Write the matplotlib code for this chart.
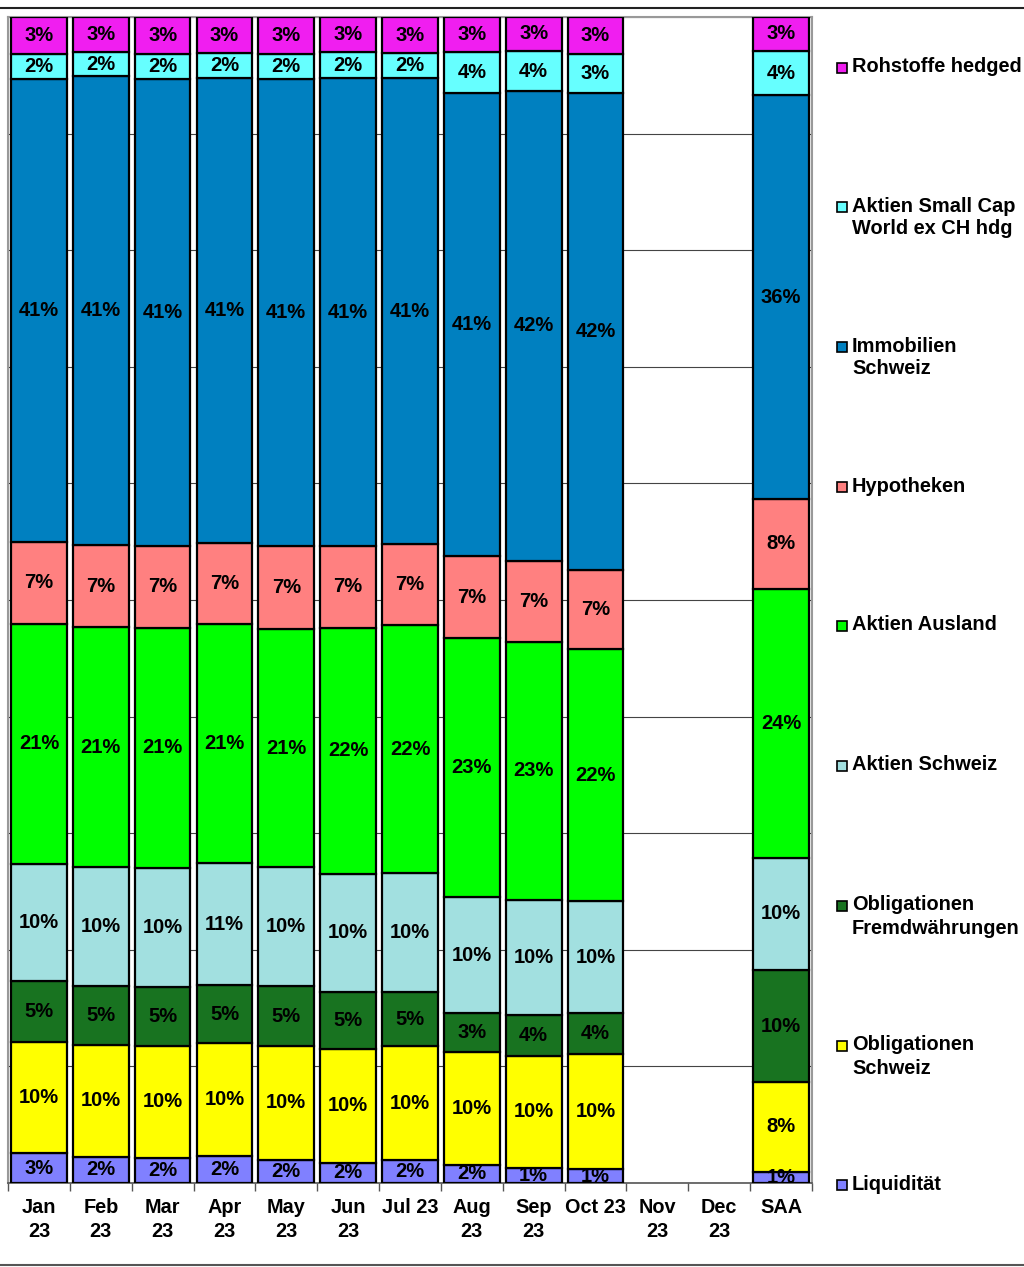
import matplotlib
matplotlib.use('Agg')
import matplotlib.pyplot as plt
import numpy as np
from matplotlib.patches import Rectangle
from matplotlib.lines import Line2D

plt.rcParams['font.family'] = ['Liberation Sans', 'DejaVu Sans']

nan = np.nan
categories = ['Jan\n23', 'Feb\n23', 'Mar\n23', 'Apr\n23', 'May\n23', 'Jun\n23', 'Jul 23',
              'Aug\n23', 'Sep\n23', 'Oct 23', 'Nov\n23', 'Dec\n23', 'SAA']

# values (in %) bottom to top
liquiditaet      = [2.6, 2.3, 2.2, 2.4, 2.0, 1.8, 2.0, 1.6, 1.3, 1.2, nan, nan, 1]
oblig_schweiz    = [9.8, 9.8, 9.8, 9.9, 10.0, 10.0, 10.0, 10.0, 10.0, 10.2, nan, nan, 8]
oblig_fremdw     = [5.3, 5.1, 5.2, 5.1, 5.2, 5.0, 4.8, 3.4, 3.6, 3.6, nan, nan, 10]
aktien_schweiz   = [10.3, 10.4, 10.4, 10.7, 10.4, 10.4, 10.4, 10.3, 10.2, 9.9, nan, nan, 10]
aktien_ausland   = [21.0, 21.0, 21.0, 21.0, 20.9, 21.6, 21.8, 22.9, 22.9, 22.3, nan, nan, 24]
hypotheken       = [7.2, 7.2, 7.2, 7.2, 7.2, 7.2, 7.1, 7.2, 7.2, 7.0, nan, nan, 8]
immobilien       = [40.6, 41.0, 40.9, 40.8, 40.9, 41.1, 40.9, 41.0, 41.6, 42.2, nan, nan, 36]
small_cap        = [2.2, 2.1, 2.2, 2.2, 2.2, 2.3, 2.2, 3.6, 3.6, 3.4, nan, nan, 4]
rohstoffe        = [3.2, 3.1, 3.2, 3.2, 3.2, 3.1, 3.2, 3.1, 3.0, 3.3, nan, nan, 3]

series_names = ['Liquidität', 'Obligationen\nSchweiz', 'Obligationen\nFremdwährungen',
                'Aktien Schweiz', 'Aktien Ausland', 'Hypotheken', 'Immobilien\nSchweiz',
                'Aktien Small Cap\nWorld ex CH hdg', 'Rohstoffe hedged']
series_values = [liquiditaet, oblig_schweiz, oblig_fremdw, aktien_schweiz, aktien_ausland,
                 hypotheken, immobilien, small_cap, rohstoffe]
colors = ['#8080FF', '#FFFF00', '#187320', '#A2E0E0', '#00FF00', '#FF8080',
          '#0080C0', '#66FFFF', '#F01EF0']

W, H = 1024, 1267
fig = plt.figure(figsize=(W / 100, H / 100), dpi=100)
ax = fig.add_axes([8 / W, (H - 1183) / H, 804 / W, 1166 / H])

vals = np.array(series_values, dtype=float)
totals = np.nansum(vals, axis=0)
x = np.arange(len(categories))
bottom = np.zeros(len(categories))
for name, row, col in zip(series_names, vals, colors):
    valid = ~np.isnan(row)
    share = np.where(valid, row / np.where(totals == 0, 1, totals) * 100, 0)
    ax.bar(x[valid], share[valid], bottom=bottom[valid], width=0.9, color=col,
           edgecolor='black', linewidth=1.6, zorder=3)
    for xi, b, s, v in zip(x[valid], bottom[valid], share[valid], row[valid]):
        ax.text(xi, b + s / 2, f"{v:.0f}%", ha='center', va='center',
                fontsize=14.5, fontweight='bold', color='black', zorder=4)
    bottom = bottom + share

ax.set_xlim(-0.5, len(categories) - 0.5)
ax.set_ylim(0, 100)
ax.set_yticks(np.arange(0, 101, 10))
ax.set_yticklabels([])
ax.tick_params(axis='y', length=0)
ax.grid(axis='y', color='#444444', linewidth=0.8, zorder=0)
ax.set_axisbelow(True)

ax.set_xticks(x)
ax.set_xticklabels(categories, fontsize=14.3, fontweight='bold', linespacing=1.3)
ax.set_xticks(np.arange(-0.5, len(categories), 1), minor=True)
ax.tick_params(axis='x', which='major', length=0, pad=11)
ax.tick_params(axis='x', which='minor', length=6, width=1, color='#555555', direction='out')

for side in ['left', 'right', 'top']:
    ax.spines[side].set_color('#999999')
    ax.spines[side].set_linewidth(1.5)
ax.spines['bottom'].set_color('#555555')
ax.spines['bottom'].set_linewidth(1.2)

# legend (manual, top to bottom)
legend_y = [67, 206, 346, 486, 625, 765, 905, 1045, 1184]
for name, col, yy in zip(series_names[::-1], colors[::-1], legend_y):
    fy = 1 - yy / H
    fig.add_artist(Rectangle(((837) / W, fy - 5.5 / H), 10 / W, 10 / H, facecolor=col,
                             edgecolor='black', linewidth=1.2, transform=fig.transFigure))
    for k, line in enumerate(name.split('\n')):
        fig.text(852 / W, 1 - (yy + k * 23) / H, line, ha='left', va='center',
                 fontsize=14.4, fontweight='bold', color='black')

# outer frame lines
fig.add_artist(Line2D([0, 1], [1 - 8 / H, 1 - 8 / H], color='#222222', linewidth=1.5,
                      transform=fig.transFigure))
fig.add_artist(Line2D([0, 1], [1 - 1265 / H, 1 - 1265 / H], color='#555555', linewidth=1.5,
                      transform=fig.transFigure))

fig.savefig('out.png', dpi=100)
